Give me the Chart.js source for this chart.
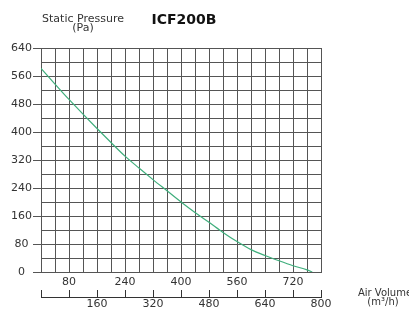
<!DOCTYPE html>
<html>
<head>
<meta charset="utf-8">
<script src="https://cdn.jsdelivr.net/npm/chart.js@4"></script>
<style>
  html, body { margin: 0; padding: 0; background: #fff; }
  #wrap { width: 409px; height: 309px; }
</style>
</head>
<body>
<div id="wrap"><canvas id="fanChart" width="409" height="309"></canvas></div>
<script>
// fan curve ICF200B
const airVolume = [0, 40, 80, 120, 160, 200, 240, 280, 320, 360, 400, 440, 480, 520, 560, 600, 640, 680, 720, 760, 775];
const staticPressure = [582, 537, 493, 451, 410, 370, 331, 297, 264, 232, 200, 170, 142, 113, 87, 64, 47, 32, 18, 6, 0];

const yTickLabels = [0, 80, 160, 240, 320, 400, 480, 560, 640];
const xUpperLabels = [80, 240, 400, 560, 720];
const xLowerLabels = [160, 320, 480, 640, 800];

const gridColor = '#555';
const textColor = '#333';
const tickFont = { family: 'DejaVu Sans', size: 11 };

// titles around the plot
const headerText = {
    id: 'headerText',
    afterDraw(chart) {
        const c = chart.ctx;
        c.save();
        c.fillStyle = textColor;
        c.textAlign = 'center';
        c.textBaseline = 'alphabetic';
        c.font = '11px "DejaVu Sans"';
        c.fillText('Static Pressure', 83, 22);
        c.fillText('(Pa)', 83, 31);
        c.fillStyle = '#111';
        c.font = 'bold 14px "DejaVu Sans"';
        c.fillText('ICF200B', 184, 24);
        c.fillStyle = textColor;
        c.font = '10px "DejaVu Sans"';
        c.fillText('Air Volume', 385, 296);
        c.fillText('(m\u00b3/h)', 383, 305);
        c.restore();
    }
};

const ctx = document.getElementById('fanChart').getContext('2d');
const fanChart = new Chart(ctx, {
    type: 'line',
    data: {
        datasets: [{
            data: airVolume.map((v, i) => ({ x: v, y: staticPressure[i] })),
            borderColor: '#3fae7c',
            borderWidth: 1.2,
            pointRadius: 0,
            cubicInterpolationMode: 'monotone',
            fill: false
        }]
    },
    options: {
        responsive: false,
        animation: false,
        layout: { padding: { top: 48, right: 88, left: 0, bottom: 0 } },
        plugins: {
            legend: { display: false },
            tooltip: { enabled: false }
        },
        scales: {
            y: {
                min: 0,
                max: 640,
                afterFit: s => { s.width = 41; },
                ticks: {
                    stepSize: 40,
                    autoSkip: false,
                    padding: 1,
                    crossAlign: 'center',
                    color: textColor,
                    font: tickFont,
                    callback: v => yTickLabels.includes(v) ? String(v) : ''
                },
                grid: {
                    color: gridColor,
                    tickLength: 8,
                    tickColor: c => yTickLabels.includes(c.tick.value) ? gridColor : 'rgba(0,0,0,0)'
                },
                border: { color: gridColor }
            },
            x: {
                type: 'linear',
                position: 'bottom',
                weight: 0,
                min: 0,
                max: 800,
                afterFit: s => { s.height = 25; },
                ticks: {
                    stepSize: 40,
                    autoSkip: false,
                    maxRotation: 0,
                    padding: 4,
                    color: textColor,
                    font: tickFont,
                    callback: v => xUpperLabels.includes(v) ? String(v) : ''
                },
                grid: { color: gridColor, drawTicks: false },
                border: { color: gridColor }
            },
            x2: {
                type: 'linear',
                position: 'bottom',
                weight: 1,
                min: 0,
                max: 800,
                afterFit: s => { s.height = 12; },
                ticks: {
                    stepSize: 80,
                    autoSkip: false,
                    maxRotation: 0,
                    padding: 8,
                    color: textColor,
                    font: tickFont,
                    callback: v => xLowerLabels.includes(v) ? String(v) : ''
                },
                grid: {
                    drawOnChartArea: false,
                    tickLength: -7,
                    tickColor: '#333'
                },
                border: { display: true, color: '#333' }
            }
        }
    },
    plugins: [headerText]
});
</script>
</body>
</html>
